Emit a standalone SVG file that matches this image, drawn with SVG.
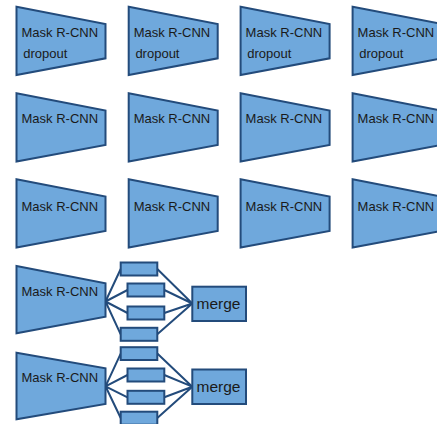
<svg xmlns="http://www.w3.org/2000/svg" width="437" height="424" viewBox="0 0 437 424">
<style>
.shape{fill:#6fa8dc;stroke:#234b7b;stroke-width:2;stroke-linejoin:miter}
.conn{stroke:#234b7b;stroke-width:2;fill:none}
.lbl{font-family:"Liberation Sans",Arial,sans-serif;font-size:13px;fill:#1a1a1a}
.big{font-family:"Liberation Sans",Arial,sans-serif;font-size:15.5px;fill:#1a1a1a}
</style>
<defs>
<polygon id="trap" points="0,0 89,17.3 89,51.6 0,68.3"/>
</defs>
<rect width="437" height="424" fill="#ffffff"/>

<g id="r1c1" transform="translate(16.5,6.7)"><use href="#trap" class="shape"/><text class="lbl" x="5" y="30.5">Mask R-CNN</text><text class="lbl" x="6.7" y="51">dropout</text></g>
<g id="r1c2" transform="translate(128.7,6.7)"><use href="#trap" class="shape"/><text class="lbl" x="5" y="30.5">Mask R-CNN</text><text class="lbl" x="6.7" y="51">dropout</text></g>
<g id="r1c3" transform="translate(240.6,6.7)"><use href="#trap" class="shape"/><text class="lbl" x="5" y="30.5">Mask R-CNN</text><text class="lbl" x="6.7" y="51">dropout</text></g>
<g id="r1c4" transform="translate(352.6,6.7)"><use href="#trap" class="shape"/><text class="lbl" x="5" y="30.5">Mask R-CNN</text><text class="lbl" x="6.7" y="51">dropout</text></g>

<g id="r2c1" transform="translate(16.5,93.3)"><use href="#trap" class="shape"/><text class="lbl" x="5" y="29.5">Mask R-CNN</text></g>
<g id="r2c2" transform="translate(128.7,93.3)"><use href="#trap" class="shape"/><text class="lbl" x="5" y="29.5">Mask R-CNN</text></g>
<g id="r2c3" transform="translate(240.6,93.3)"><use href="#trap" class="shape"/><text class="lbl" x="5" y="29.5">Mask R-CNN</text></g>
<g id="r2c4" transform="translate(352.6,93.3)"><use href="#trap" class="shape"/><text class="lbl" x="5" y="29.5">Mask R-CNN</text></g>

<g id="r3c1" transform="translate(16.5,179.3)"><use href="#trap" class="shape"/><text class="lbl" x="5" y="31.5">Mask R-CNN</text></g>
<g id="r3c2" transform="translate(128.7,179.3)"><use href="#trap" class="shape"/><text class="lbl" x="5" y="31.5">Mask R-CNN</text></g>
<g id="r3c3" transform="translate(240.6,179.3)"><use href="#trap" class="shape"/><text class="lbl" x="5" y="31.5">Mask R-CNN</text></g>
<g id="r3c4" transform="translate(352.6,179.3)"><use href="#trap" class="shape"/><text class="lbl" x="5" y="31.5">Mask R-CNN</text></g>

<g id="connectors">
<path class="conn" d="M105.5,301.5 L120.7,269 M105.5,301.5 L127.5,290 M105.5,301.5 L127.5,313 M105.5,301.5 L120.7,334.3 M157.3,269 L192.3,303.5 M164.3,290 L192.3,303.5 M164.3,313 L192.3,303.5 M157.3,334.3 L192.3,303.5"/>
<path class="conn" d="M105.5,386.3 L120.7,353.6 M105.5,386.3 L127.5,375 M105.5,386.3 L127.5,397.3 M105.5,386.3 L120.7,418 M157.3,353.6 L192.3,386.7 M164.3,375 L192.3,386.7 M164.3,397.3 L192.3,386.7 M157.3,418 L192.3,386.7"/>
</g>

<g id="r4-mask" transform="translate(16.5,266)"><polygon class="shape" points="0,0 89,17.3 89,50.7 0,67.3"/><text class="lbl" x="5" y="30">Mask R-CNN</text></g>
<g id="r4-b1"><rect class="shape" x="120.7" y="262.5" width="36.6" height="13"/></g>
<g id="r4-b2"><rect class="shape" x="127.5" y="283.5" width="36.8" height="13"/></g>
<g id="r4-b3"><rect class="shape" x="127.5" y="306.5" width="36.8" height="13"/></g>
<g id="r4-b4"><rect class="shape" x="120.7" y="327.8" width="36.6" height="13"/></g>
<g id="r4-merge"><rect class="shape" x="192.3" y="286.7" width="53.7" height="34.3"/><text class="big" x="196.5" y="309">merge</text></g>

<g id="r5-mask" transform="translate(16.5,352.7)"><polygon class="shape" points="0,0 89,15.6 89,51.3 0,66.6"/><text class="lbl" x="5" y="29">Mask R-CNN</text></g>
<g id="r5-b1"><rect class="shape" x="120.7" y="347.2" width="36.6" height="12.8"/></g>
<g id="r5-b2"><rect class="shape" x="127.5" y="368.5" width="36.8" height="13"/></g>
<g id="r5-b3"><rect class="shape" x="127.5" y="390.8" width="36.8" height="13"/></g>
<g id="r5-b4"><rect class="shape" x="120.7" y="411.7" width="36.6" height="13"/></g>
<g id="r5-merge"><rect class="shape" x="192.3" y="369.5" width="53.7" height="34.5"/><text class="big" x="196.5" y="392">merge</text></g>
</svg>
